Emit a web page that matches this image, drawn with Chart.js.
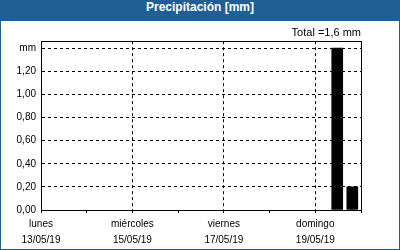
<!DOCTYPE html>
<html>
<head>
<meta charset="utf-8">
<script src="https://cdn.jsdelivr.net/npm/chart.js@4/dist/chart.umd.min.js"></script>
<style>
  body { margin: 0; }
  #frame { position: relative; width: 400px; height: 250px; background: #1f5f96; }
  #title { position: absolute; left: 0; top: 0; width: 400px; height: 21px; line-height: 21px;
           text-align: center; color: #fff; font: bold 12px "Liberation Sans", Arial, sans-serif; }
  #body { position: absolute; left: 1px; top: 21px; width: 398px; height: 228px; background: #fff; overflow: hidden; }
</style>
</head>
<body>
<div id="frame">
  <div id="title">Precipitación [mm]</div>
  <div id="body"><canvas id="lluviaChart" width="398" height="230"></canvas></div>
</div>
<script>
  // Datos (días desde el lunes 13/05/19)
  const dayNames = ['lunes', 'martes', 'miércoles', 'jueves', 'viernes', 'sábado', 'domingo', 'lunes'];
  const dayDates = ['13/05/19', '14/05/19', '15/05/19', '16/05/19', '17/05/19', '18/05/19', '19/05/19', '20/05/19'];
  const barDays = [6.48, 6.81];
  const rainMm = [1.4, 0.2];
  const totalLabel = 'Total =1,6 mm';

  const font = { family: '"Liberation Sans", Arial, sans-serif', size: 10 };

  // marco completo del área de dibujo
  const boxPlugin = {
    id: 'box',
    afterDraw(chart) {
      const a = chart.chartArea;
      const c = chart.ctx;
      c.save();
      c.strokeStyle = '#000';
      c.lineWidth = 1;
      c.strokeRect(Math.round(a.left) + 0.5, Math.round(a.top) + 0.5,
                   Math.round(a.right - a.left), Math.round(a.bottom - a.top));
      c.restore();
    }
  };

  const config = {
    type: 'bar',
    data: {
      datasets: [{
        data: barDays.map((d, i) => ({ x: d, y: rainMm[i] })),
        backgroundColor: '#000',
        borderWidth: 0,
        barThickness: 11,
      }],
    },
    options: {
      animation: false,
      responsive: false,
      layout: { padding: { left: 0, right: 38, top: 5, bottom: 0 } },
      scales: {
        x: {
          type: 'linear',
          min: 0,
          max: 7,
          offset: false,
          grid: {
            offset: false,
            color: (ctx) => (ctx.tick && [2, 4, 6].includes(ctx.tick.value)) ? '#000' : 'rgba(0,0,0,0)',
            tickColor: '#000',
            tickLength: 3,
            drawOnChartArea: true,
          },
          border: { color: '#000', dash: [3, 3] },
          ticks: {
            stepSize: 1,
            autoSkip: false,
            maxRotation: 0,
            padding: 3,
            color: '#000',
            font: { ...font, lineHeight: 1.6 },
            callback: (v) => (v % 2 === 0 && v < 7) ? [dayNames[v], dayDates[v]] : '',
          },
        },
        y: {
          min: 0,
          max: 1.46,
          afterFit: (s) => { s.width = 40; },
          grid: {
            drawTicks: false,
            color: (ctx) => (ctx.tick && ctx.tick.value > 0.01) ? '#000' : 'rgba(0,0,0,0)',
          },
          border: { color: '#000', dash: [3, 3] },
          ticks: {
            stepSize: 0.2,
            includeBounds: false,
            padding: 5,
            color: '#000',
            font: font,
            callback: (v) => Math.abs(v - 1.4) < 1e-6 ? 'mm' : v.toFixed(2).replace('.', ','),
          },
        },
      },
      plugins: {
        legend: { display: false },
        tooltip: { enabled: false },
        title: {
          display: true,
          text: totalLabel,
          align: 'end',
          color: '#000',
          font: { ...font, size: 11, weight: 'normal' },
          padding: { top: 0, bottom: 2 },
        },
      },
    },
    plugins: [boxPlugin],
  };

  const ctx = document.getElementById('lluviaChart').getContext('2d');
  new Chart(ctx, config);
</script>
</body>
</html>
